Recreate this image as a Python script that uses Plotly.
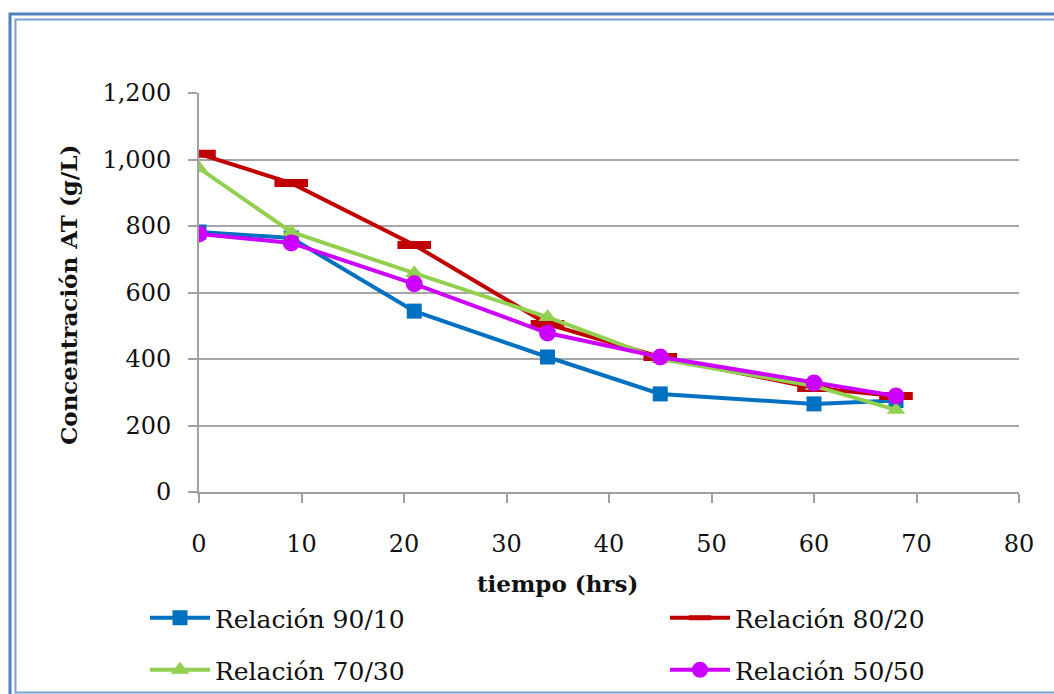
import plotly.graph_objects as go

time_hrs = [0, 9, 21, 34, 45, 60, 68]
rel_90_10 = [782, 764, 544, 406, 295, 265, 275]
rel_80_20 = [1017, 929, 743, 505, 406, 313, 289]
rel_70_30 = [974, 782, 658, 526, 400, 319, 247]
rel_50_50 = [776, 749, 626, 478, 406, 328, 289]

names = ["Relación 90/10", "Relación 80/20", "Relación 70/30", "Relación 50/50"]
y_ticks = [0, 200, 400, 600, 800, 1000, 1200]
y_ticktext = ["0", "200", "400", "600", "800", "1,000", "1,200"]
x_ticks = [0, 10, 20, 30, 40, 50, 60, 70, 80]

W, H = 1054, 694
L, R, T, B = 199, 1019, 93, 492

def px(x):
    return (x - L) / (R - L)

def py(y):
    return (B - y) / (B - T)

FONT = "DejaVu Serif"

fig = go.Figure()
fig.add_trace(go.Scatter(x=time_hrs, y=rel_90_10, name=names[0], mode="lines+markers",
                         line=dict(color="#0070C0", width=4),
                         marker=dict(symbol="square", size=15, color="#0070C0"),
                         legend="legend"))
fig.add_trace(go.Scatter(x=time_hrs, y=rel_80_20, name=names[1], mode="lines+markers",
                         line=dict(color="#C00000", width=4),
                         marker=dict(symbol="line-ew", size=24, color="#C00000",
                                     line=dict(color="#C00000", width=8)),
                         legend="legend2"))
fig.add_trace(go.Scatter(x=time_hrs, y=rel_70_30, name=names[2], mode="lines+markers",
                         line=dict(color="#92D050", width=4),
                         marker=dict(symbol="triangle-up", size=16, color="#92D050"),
                         legend="legend3"))
fig.add_trace(go.Scatter(x=time_hrs, y=rel_50_50, name=names[3], mode="lines+markers",
                         line=dict(color="#CC00FF", width=4),
                         marker=dict(symbol="circle", size=17, color="#CC00FF"),
                         legend="legend4"))

legfont = dict(family=FONT, size=25, color="#111111")
def leg(xp, yp):
    return dict(x=px(xp), y=py(yp), xanchor="left", yanchor="middle",
                font=legfont, bgcolor="rgba(0,0,0,0)", itemwidth=60)

fig.update_layout(
    width=W, height=H,
    margin=dict(l=L, r=W - R, t=T, b=H - B, autoexpand=False),
    paper_bgcolor="white", plot_bgcolor="white",
    showlegend=True,
    legend=leg(145, 618),
    legend2=leg(665, 618),
    legend3=leg(145, 670),
    legend4=leg(665, 670),
    xaxis=dict(range=[0, 80], tickvals=x_ticks, showgrid=False,
               showline=True, linecolor="#A0A0A0", linewidth=2,
               ticks="outside", ticklen=9, tickwidth=2, tickcolor="#A0A0A0",
               tickfont=dict(family=FONT, size=24, color="#111111"),
               ticklabelstandoff=20, zeroline=False, automargin=False),
    yaxis=dict(range=[0, 1200], tickvals=y_ticks, ticktext=y_ticktext,
               showgrid=True, gridcolor="#A6A6A6", gridwidth=2,
               showline=True, linecolor="#A0A0A0", linewidth=2,
               ticks="outside", ticklen=9, tickwidth=2, tickcolor="#A0A0A0",
               tickfont=dict(family=FONT, size=24, color="#111111"),
               ticklabelstandoff=12, zeroline=False, automargin=False),
)

fig.add_annotation(text="<b>Concentración AT (g/L)</b>", xref="paper", yref="paper",
                   x=px(68), y=py(295), textangle=-90, showarrow=False,
                   xanchor="center", yanchor="middle",
                   font=dict(family=FONT, size=23, color="#111111"))
fig.add_annotation(text="<b>tiempo (hrs)</b>", xref="paper", yref="paper",
                   x=px(557), y=py(583), showarrow=False,
                   xanchor="center", yanchor="middle",
                   font=dict(family=FONT, size=23, color="#111111"))

# double blue frame
fig.add_shape(type="rect", xref="paper", yref="paper",
              x0=px(10), y0=py(700), x1=px(1070), y1=py(14),
              line=dict(color="#4F81BD", width=3), layer="above")
fig.add_shape(type="rect", xref="paper", yref="paper",
              x0=px(15.5), y0=py(692.5), x1=px(1064), y1=py(19.5),
              line=dict(color="#7BA0D4", width=2), layer="above")

fig.write_html("out.html")
